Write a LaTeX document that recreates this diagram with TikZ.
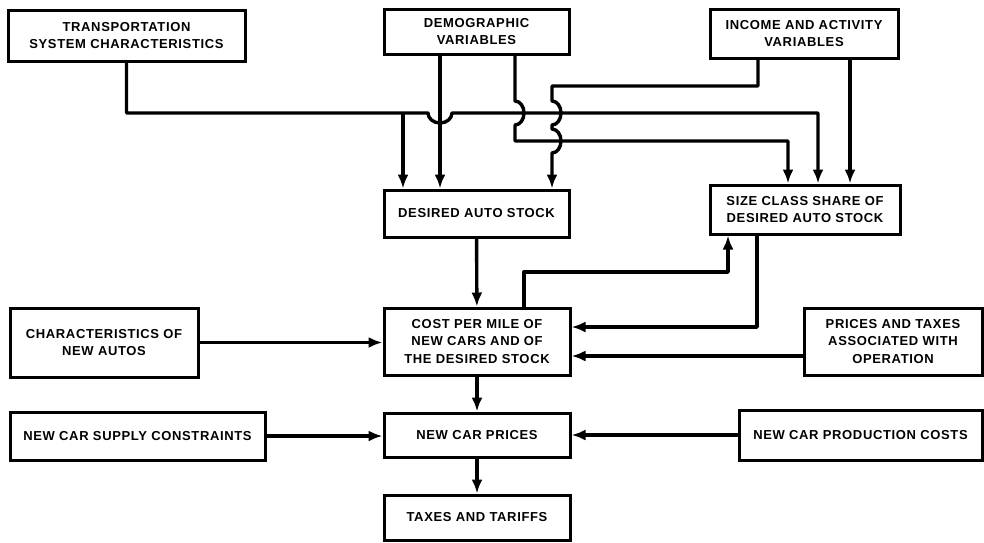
\documentclass[tikz,border=0pt]{standalone}
\usepackage{fontspec}
\setmainfont{Liberation Sans}[LetterSpace=5]
\usetikzlibrary{arrows.meta,positioning}

\begin{document}
\begin{tikzpicture}[x=1pt, y=-1pt, >={Latex[length=14pt,width=11pt]},
		every node/.style={font=\fontsize{13}{17.5}\selectfont\bfseries},
		blok/.style={draw, rectangle, line width=3pt, align=center, inner sep=0pt},
		lnk/.style={line width=3.4pt, line join=round}]
				\useasboundingbox (0,0) rectangle (984,542);
				\node[blok, minimum width=237pt, minimum height=51pt] (trans) at (126.5,35.5) {TRANSPORTATION\\SYSTEM CHARACTERISTICS};
				\node[blok, minimum width=185pt, minimum height=45pt] (demog) at (476.5,31.5) {DEMOGRAPHIC\\VARIABLES};
				\node[blok, minimum width=188pt, minimum height=49pt] (income) at (804,33.5) {INCOME AND ACTIVITY\\VARIABLES};
				\node[blok, minimum width=185pt, minimum height=47pt] (desired) at (476.5,213.5) {DESIRED AUTO STOCK};
				\node[blok, minimum width=190pt, minimum height=49pt] (sizecl) at (805,209.5) {SIZE CLASS SHARE OF\\DESIRED AUTO STOCK};
				\node[blok, minimum width=186pt, minimum height=67pt] (costmi) at (477,341.5) {COST PER MILE OF\\NEW CARS AND OF\\THE DESIRED STOCK};
				\node[blok, minimum width=188pt, minimum height=69pt] (charac) at (104,342.5) {CHARACTERISTICS OF\\NEW AUTOS};
				\node[blok, minimum width=178pt, minimum height=67pt] (prices) at (893,341.5) {PRICES AND TAXES\\ASSOCIATED WITH\\OPERATION};
				\node[blok, minimum width=255pt, minimum height=48pt] (supply) at (137.5,436) {NEW CAR SUPPLY CONSTRAINTS};
				\node[blok, minimum width=186pt, minimum height=44pt] (newcar) at (477,435) {NEW CAR PRICES};
				\node[blok, minimum width=243pt, minimum height=50pt] (prodco) at (860.5,435) {NEW CAR PRODUCTION COSTS};
				\node[blok, minimum width=186pt, minimum height=45pt] (taxes) at (477,517.5) {TAXES AND TARIFFS};
				\coordinate (hopw) at (428,113);
				\coordinate (branch) at (403,113);
				\coordinate (trunkend) at (818,113);
				\coordinate (dA) at (440,0);
				\coordinate (dB) at (515,101);
				\coordinate (sB) at (788,141);
				\coordinate (iA) at (758,86);
				\coordinate (iB) at (552,101);
				\coordinate (iC) at (552,129);
				\coordinate (iD) at (850,0);
				\coordinate (uA) at (524,272);
				\coordinate (uB) at (728,272);
				\coordinate (wA) at (757,327);
				\coordinate (pA) at (0,356);
				\draw[lnk,->] (trans.south) |- (hopw) arc[start angle=180, end angle=0, x radius=12, y radius=10] -- (trunkend) -- (trunkend |- sizecl.north);
				\draw[lnk,->] (branch) -- (branch |- desired.north);
				\draw[lnk,->] (dA |- demog.south) -- (dA |- desired.north);
				\draw[lnk,->] (dB |- demog.south) -- (dB) arc[start angle=-90, end angle=90, x radius=9, y radius=12] |- (sB) -- (sB |- sizecl.north);
				\draw[lnk,->] (iA |- income.south) -- (iA) -| (iB) arc[start angle=-90, end angle=90, x radius=9, y radius=12] -- (iC) arc[start angle=-90, end angle=90, x radius=9, y radius=12] -- (iB |- desired.north);
				\draw[lnk,->] (iD |- income.south) -- (iD |- sizecl.north);
				\draw[lnk,->] (desired) -- (costmi);
				\draw[lnk,->] (uA |- costmi.north) -- (uA) -- (uB) -- (uB |- sizecl.south);
				\draw[lnk,->] (wA |- sizecl.south) -- (wA) -- (wA -| costmi.east);
				\draw[lnk,->] (pA -| prices.west) -- (pA -| costmi.east);
				\draw[lnk,->] (charac.east) -- (charac.east -| costmi.west);
				\draw[lnk,->] (costmi) -- (newcar);
				\draw[lnk,->] (supply.east) -- (supply.east -| newcar.west);
				\draw[lnk,->] (prodco.west) -- (prodco.west -| newcar.east);
				\draw[lnk,->] (newcar) -- (taxes);
			\end{tikzpicture}
\end{document}
